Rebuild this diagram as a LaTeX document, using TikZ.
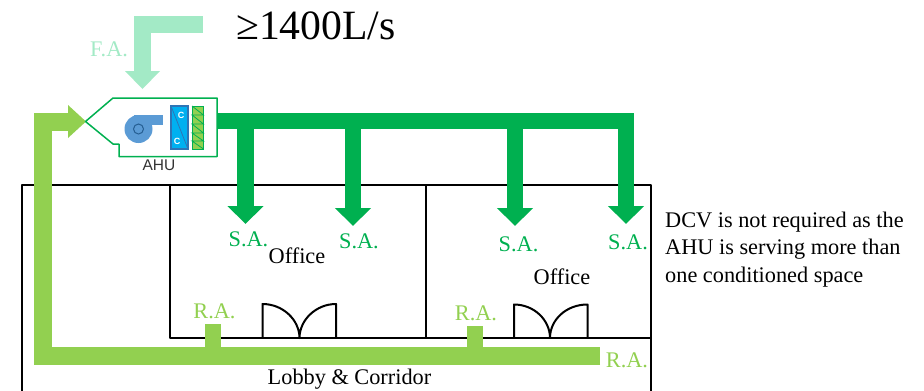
\documentclass[tikz,border=0pt]{standalone}
\usepackage{fontspec}
\setmainfont{Liberation Serif}
\setsansfont{Liberation Sans}
\usetikzlibrary{arrows.meta}

\definecolor{supplygreen}{HTML}{00B050}
\definecolor{returngreen}{HTML}{92D050}
\definecolor{freshgreen}{HTML}{A3EAC6}
\definecolor{fanblue}{HTML}{5B9BD5}
\definecolor{coilblue}{HTML}{00B0F0}
\definecolor{coiledge}{HTML}{2E75B6}

\tikzset{
  wall/.style={draw=black, line width=2pt, line join=round},
  door/.style={draw=black, line width=2pt, line join=round},
  supplyduct/.style={draw=supplygreen, line width=16.5pt},
  supplydrop/.style={draw=supplygreen, line width=16.5pt, -{Triangle[length=18pt,width=35pt]}},
  returnduct/.style={draw=returngreen, line width=18pt},
  freshduct/.style={draw=freshgreen, line width=17pt},
  txt/.style={font=\fontsize{22.3}{24}\selectfont, inner sep=0pt},
  satxt/.style={txt, text=supplygreen},
  ratxt/.style={txt, text=returngreen},
}

\begin{document}
\begin{tikzpicture}[x=1pt, y=-1pt]
  \useasboundingbox (0,0) rectangle (924,391);

  % Building outline and offices
  \draw[wall] (22,392) -- (22,185) -- (650.5,185) -- (650.5,392);
  \draw[wall] (170,185) -- (170,338) -- (650.5,338);
  \draw[wall] (425.5,185) -- (425.5,338);

  % Doors
  \draw[door] (262.5,338) -- (262.5,304) .. controls (283,304) and (299.5,320) .. (299.5,338)
    .. controls (299.5,320) and (316,304) .. (336,304) -- (336,338);
  \draw[door] (514,338) -- (514,304.5) .. controls (534,304.5) and (550,320) .. (550,338)
    .. controls (550,320) and (566,304.5) .. (587.5,304.5) -- (587.5,338);

  % Return air duct
  \coordinate (raend) at (600,356);
  \coordinate (racorner) at (43,356);
  \coordinate (ratop) at (43,121.5);
  \coordinate (rain) at (86,121.5);
  \coordinate (rastuba) at (213,324);
  \coordinate (rastubb) at (475,326);
  \draw[returnduct] (raend) -- (racorner) -- (ratop) -- (70,121.5);
  \draw[returnduct, line width=16pt] (rastuba) -- (213,350);
  \draw[returnduct, line width=16pt] (rastubb) -- (475,350);
  \fill[returngreen] (rain) -- (68,105) -- (68,138) -- cycle;

  % Supply air duct
  \coordinate (saout) at (217,121);
  \coordinate (saend) at (634,121);
  \coordinate (sadropa) at (245.5,121);
  \coordinate (sadropb) at (353,121);
  \coordinate (sadropc) at (515,121);
  \coordinate (sadropd) at (626,113);
  \draw[supplyduct] (saout) -- (saend);
  \draw[supplydrop] (sadropa) -- (245.5,224);
  \draw[supplydrop] (sadropb) -- (353,226);
  \draw[supplydrop] (sadropc) -- (515,226);
  \draw[supplydrop] (sadropd) -- (626,224);

  % Fresh air duct
  \coordinate (fastart) at (203,24.5);
  \coordinate (facorner) at (142.5,24.5);
  \draw[freshduct] (fastart) -- (facorner) -- (142.5,72);
  \fill[freshgreen] (142.5,89) -- (125,71) -- (160,71) -- cycle;

  % AHU casing
  \draw[draw=supplygreen, line width=1.5pt, fill=white, line join=round]
    (85.5,121.5) -- (113,98) -- (217,98) -- (217,156.5) -- (119,156.5) -- (119,144) -- (113,144) -- cycle;

  % Fan
  \fill[fanblue] (138.5,129) circle (14);
  \fill[fanblue] (134,115) rectangle (163,125);
  \draw[draw=coiledge!80!black, line width=1pt] (138.5,129) circle (5);

  % Cooling coil
  \draw[draw=coiledge, fill=coilblue, line width=1.2pt] (171,106) rectangle (188,149);
  \draw[draw=coiledge, line width=0.8pt] (171,106) -- (188,149);
  \node[font=\sffamily\bfseries\fontsize{9}{9}\selectfont, text=white, inner sep=0pt] (coiltop) at (181,115.5) {C};
  \node[font=\sffamily\bfseries\fontsize{9}{9}\selectfont, text=white, inner sep=0pt] (coilbot) at (177,141) {C};

  % Filter
  \draw[draw=supplygreen, fill=returngreen, line width=1pt] (192,106) rectangle (203.5,149);
  \draw[draw=supplygreen, line width=0.8pt] (192,106) -- (203.5,115) -- (192,115) -- (203.5,124)
    -- (192,124) -- (203.5,133) -- (192,133) -- (203.5,141) -- (192,141) -- (203.5,149);

  % Labels
  \node[inner sep=0pt, font=\fontsize{41.7}{44}\selectfont] (flow) at (316,26) {≥1400L/s};
  \node[txt, text=freshgreen] (fa) at (109,49.5) {F.A.};
  \node[inner sep=0pt, font=\sffamily\fontsize{15.5}{16}\selectfont, text=black!80] (ahu) at (159,165.5) {AHU};
  \node[satxt] (saa) at (248.5,239) {S.A.};
  \node[satxt] (sab) at (359,241) {S.A.};
  \node[satxt] (sac) at (518.5,244) {S.A.};
  \node[satxt] (sad) at (628,242) {S.A.};
  \node[txt] (officea) at (297,256) {Office};
  \node[txt] (officeb) at (562,277) {Office};
  \node[ratxt] (raa) at (214.5,311) {R.A.};
  \node[ratxt] (rab) at (476,313) {R.A.};
  \node[ratxt] (rac) at (627,360) {R.A.};
  \node[txt] (lobby) at (349.5,379) {Lobby \& Corridor};

  % Note on the right
  \node[txt, anchor=west] (notea) at (665,222) {DCV is not required as the};
  \node[txt, anchor=west] (noteb) at (665,249.5) {AHU is serving more than};
  \node[txt, anchor=west] (notec) at (665,277) {one conditioned space};
\end{tikzpicture}
\end{document}
